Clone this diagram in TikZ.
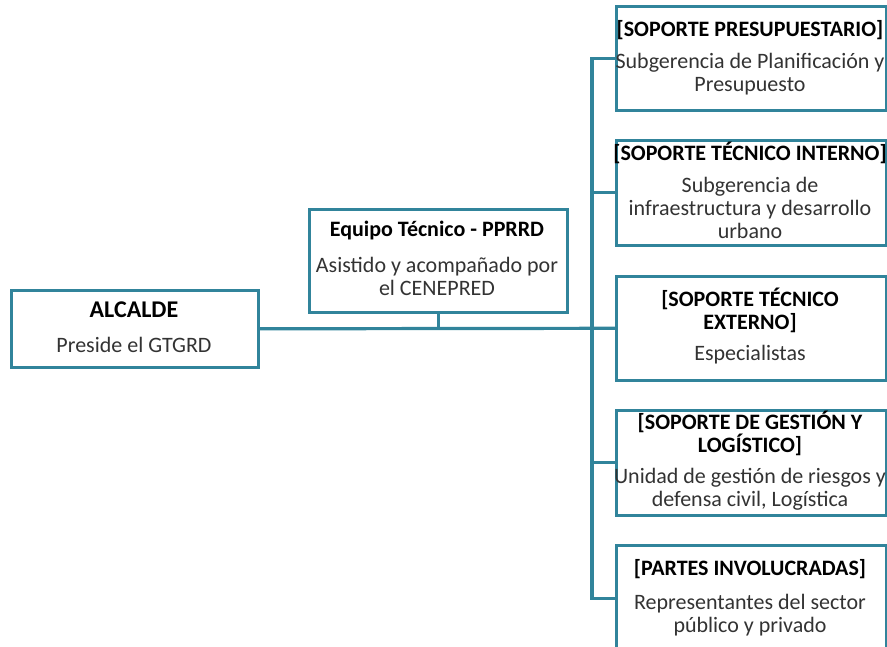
\documentclass[tikz,border=0pt]{standalone}
\usepackage{fontspec}
\setmainfont{Carlito}
\definecolor{teal1}{HTML}{31849B}
\definecolor{bodytxt}{HTML}{333333}
\begin{document}
\begin{tikzpicture}[x=1pt,y=-1pt,
  box/.style={draw=teal1,line width=2.6pt,fill=white,inner sep=0pt,anchor=north west},
  ttl/.style={font=\fontsize{22}{23}\selectfont\bfseries,text=black,align=center,inner sep=0pt},
  bdy/.style={font=\fontsize{22}{23}\selectfont,text=bodytxt,align=center,inner sep=0pt},
  conn/.style={draw=teal1,line width=3.2pt}]
\useasboundingbox (0,0) rectangle (887,647);
\clip (0,0) rectangle (887,647);
% boxes
\node[box,minimum width=247pt,minimum height=77pt] (alc) at (10,289) {};
\node[box,minimum width=258pt,minimum height=103pt] (eq) at (308,208) {};
\node[box,minimum width=270pt,minimum height=104pt] (b1) at (615,5) {};
\node[box,minimum width=270pt,minimum height=105pt] (b2) at (615,139) {};
\node[box,minimum width=270pt,minimum height=104pt] (b3) at (615,275) {};
\node[box,minimum width=270pt,minimum height=105pt] (b4) at (615,409) {};
\node[box,minimum width=270pt,minimum height=106pt] (b5) at (615,544) {};
\coordinate (tx) at (592,0);
% connectors
\draw[conn] (alc.east) -- (b3.west);
\draw[conn] (eq.south) -- (eq.south |- b3.west);
\draw[conn] (b1.west) -- (b1.west -| tx) -- (b5.west -| tx) -- (b5.west);
\draw[conn] (b2.west) -- (b2.west -| tx);
\draw[conn] (b4.west) -- (b4.west -| tx);
% texts
\node[ttl,font=\fontsize{24}{25}\selectfont\bfseries] (t-alc) at (134,310) {ALCALDE};
\node[bdy] (d-alc) at (134,345) {Preside el GTGRD};
\node[ttl] (t-eq) at (437,231) {Equipo Técnico - PPRRD};
\node[bdy] (d-eq) at (437,276) {Asistido y acompañado por\\el CENEPRED};
\node[ttl] (t-b1) at (750,30) {[SOPORTE PRESUPUESTARIO]};
\node[bdy] (d-b1) at (750,74) {Subgerencia de Planificación y\\Presupuesto};
\node[ttl] (t-b2) at (750,153) {[SOPORTE TÉCNICO INTERNO]};
\node[bdy] (d-b2) at (750,208) {Subgerencia de\\infraestructura y desarrollo\\urbano};
\node[ttl] (t-b3) at (750,310) {[SOPORTE TÉCNICO\\EXTERNO]};
\node[bdy] (d-b3) at (750,355) {Especialistas};
\node[ttl] (t-b4) at (750,433) {[SOPORTE DE GESTIÓN Y\\LOGÍSTICO]};
\node[bdy] (d-b4) at (750,489) {Unidad de gestión de riesgos y\\defensa civil, Logística};
\node[ttl] (t-b5) at (750,569) {[PARTES INVOLUCRADAS]};
\node[bdy] (d-b5) at (750,615) {Representantes del sector\\público y privado};
\end{tikzpicture}
\end{document}
